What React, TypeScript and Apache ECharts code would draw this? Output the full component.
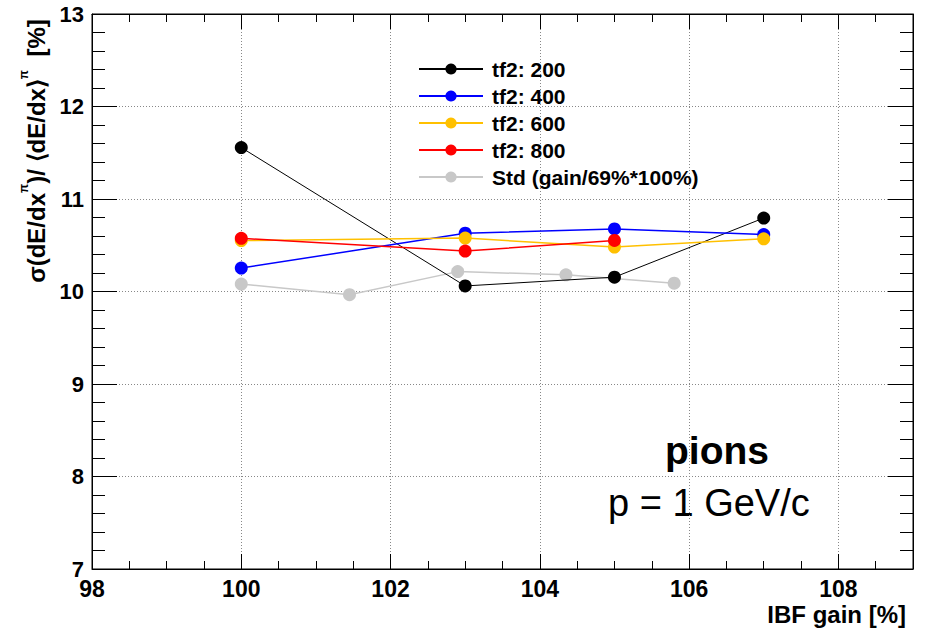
import React, { useEffect, useRef } from "react";
import * as echarts from "echarts";

const xTf200 = [100, 103, 105, 107];
const yTf200 = [11.556, 10.06, 10.155, 10.794];
const xTf400 = [100, 103, 105, 107];
const yTf400 = [10.253, 10.63, 10.676, 10.615];
const xTf600 = [100, 103, 105, 107];
const yTf600 = [10.55, 10.578, 10.48, 10.57];
const xTf800 = [100, 103, 105];
const yTf800 = [10.575, 10.437, 10.552];
const xStd = [100, 101.45, 102.9, 104.35, 105.8];
const yStd = [10.08, 9.965, 10.215, 10.18, 10.09];

const names = ["tf2: 200", "tf2: 400", "tf2: 600", "tf2: 800", "Std (gain/69%*100%)"];
const colors = ["#000000", "#0000ff", "#ffc000", "#ff0000", "#c8c8c8"];

const FONT = "'Liberation Sans', Arial, Helvetica, sans-serif";

const pairs = (xs: number[], ys: number[]) => xs.map((x, i) => [x, ys[i]]);

export default function App() {
  const ref = useRef<HTMLDivElement>(null);
  useEffect(() => {
    if (!ref.current) return;
    const chart = echarts.init(ref.current, undefined, { renderer: "svg" });
    const mk = (idx: number, xs: number[], ys: number[], lw: number, z: number) => ({
      name: names[idx],
      type: "line",
      data: pairs(xs, ys),
      symbol: "circle",
      symbolSize: 13,
      showSymbol: true,
      color: colors[idx],
      lineStyle: { color: colors[idx], width: lw },
      itemStyle: { color: colors[idx] },
      z,
      xAxisIndex: 0,
      yAxisIndex: 0,
    });
    const dotted = { show: true, lineStyle: { color: "#888", type: [1, 2], width: 1 } };
    chart.setOption({
      animation: false,
      backgroundColor: "#ffffff",
      grid: { left: 92, right: 12, top: 14, bottom: 59, show: true, borderColor: "#000", borderWidth: 1 },
      legend: {
        orient: "vertical",
        left: 413,
        top: 53,
        data: names,
        itemWidth: 64,
        itemHeight: 14,
        itemGap: 5,
        textStyle: { fontFamily: FONT, fontWeight: "bold", fontSize: 21, color: "#000", lineHeight: 22, padding: [0, 0, 0, 4] },
      },
      xAxis: [
        {
          type: "value",
          min: 98,
          max: 109,
          interval: 2,
          position: "bottom",
          axisLine: { show: true, lineStyle: { color: "#000" } },
          axisTick: { show: true, inside: true, length: 15, lineStyle: { color: "#000" } },
          minorTick: { show: true, splitNumber: 4, length: 8, lineStyle: { color: "#000" } },
          splitLine: dotted,
          axisLabel: {
            fontFamily: FONT,
            fontWeight: "bold",
            fontSize: 23,
            lineHeight: 22,
            color: "#000",
            margin: 9,
            showMaxLabel: false,
            formatter: (v: number) => (v % 2 === 0 ? String(v) : ""),
          },
        },
        {
          type: "value",
          min: 98,
          max: 109,
          interval: 2,
          position: "top",
          axisLine: { show: true, lineStyle: { color: "#000" } },
          axisTick: { show: true, inside: true, length: 15, lineStyle: { color: "#000" } },
          minorTick: { show: true, splitNumber: 4, length: 8, lineStyle: { color: "#000" } },
          splitLine: { show: false },
          axisLabel: { show: false },
        },
      ],
      yAxis: [
        {
          type: "value",
          min: 7,
          max: 13,
          interval: 1,
          position: "left",
          axisLine: { show: true, lineStyle: { color: "#000" } },
          axisTick: { show: true, inside: true, length: 25, lineStyle: { color: "#000" } },
          minorTick: { show: true, splitNumber: 5, length: 13, lineStyle: { color: "#000" } },
          splitLine: dotted,
          axisLabel: { fontFamily: FONT, fontWeight: "bold", fontSize: 22, lineHeight: 18, color: "#000", margin: 8 },
        },
        {
          type: "value",
          min: 7,
          max: 13,
          interval: 1,
          position: "right",
          axisLine: { show: true, lineStyle: { color: "#000" } },
          axisTick: { show: true, inside: true, length: 25, lineStyle: { color: "#000" } },
          minorTick: { show: true, splitNumber: 5, length: 13, lineStyle: { color: "#000" } },
          splitLine: { show: false },
          axisLabel: { show: false },
        },
      ],
      series: [
        mk(4, xStd, yStd, 1.5, 2),
        mk(0, xTf200, yTf200, 1, 3),
        mk(1, xTf400, yTf400, 1.5, 4),
        mk(2, xTf600, yTf600, 1.5, 5),
        mk(3, xTf800, yTf800, 1.5, 6),
      ],
      graphic: [
        {
          type: "text",
          x: 33,
          y: 151,
          rotation: Math.PI / 2,
          style: {
            text: "{m|σ(dE/dx}{s|π}{m|)/ ⟨dE/dx⟩}{s|π}{m|  [%]}",
            align: "center",
            verticalAlign: "middle",
            fill: "#000",
            rich: {
              m: { fontFamily: FONT, fontWeight: "bold", fontSize: 24, lineHeight: 30, verticalAlign: "bottom" },
              s: { fontFamily: FONT, fontWeight: "bold", fontSize: 12, lineHeight: 30, verticalAlign: "top" },
            },
          },
        },
        {
          type: "text",
          x: 906,
          y: 614,
          style: {
            text: "IBF gain [%]",
            align: "right",
            verticalAlign: "middle",
            fontFamily: FONT,
            fontWeight: "bold",
            fontSize: 24,
            fill: "#000",
          },
        },
        {
          type: "text",
          x: 665,
          y: 470,
          style: {
            text: "pions",
            align: "left",
            verticalAlign: "bottom",
            fontFamily: FONT,
            fontWeight: "bold",
            fontSize: 39,
            fill: "#000",
          },
        },
        {
          type: "text",
          x: 608,
          y: 503,
          style: {
            text: "p = 1 GeV/c",
            align: "left",
            verticalAlign: "middle",
            fontFamily: FONT,
            fontSize: 38,
            fill: "#000",
          },
        },
      ],
    });
    return () => chart.dispose();
  }, []);
  return (
    <div
      ref={ref}
      style={{ position: "fixed", left: 0, top: 0, width: 925, height: 628, background: "#fff" }}
    />
  );
}
